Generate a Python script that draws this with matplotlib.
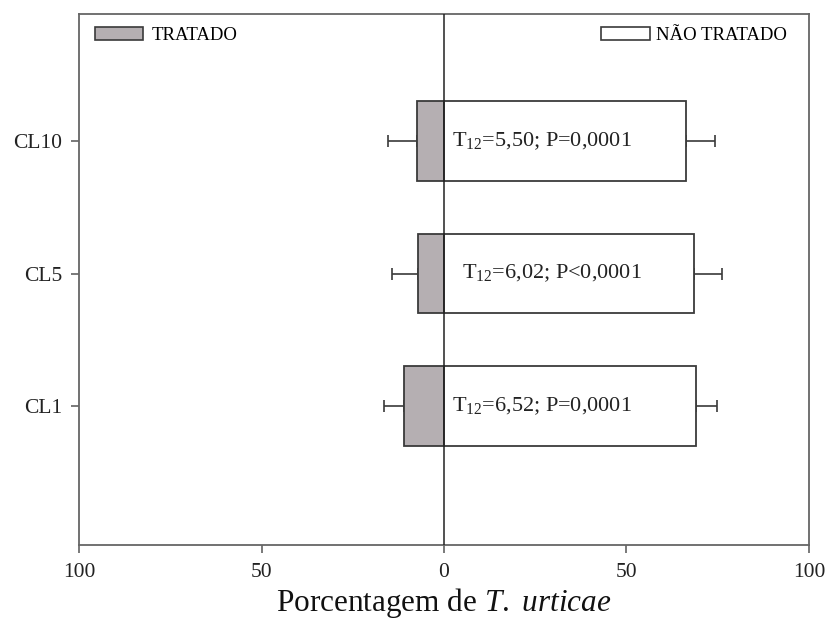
import matplotlib
matplotlib.use("Agg")
import matplotlib.pyplot as plt
import numpy as np
from matplotlib.patches import Patch

plt.rcParams['font.family'] = ['Liberation Serif', 'DejaVu Serif']
plt.rcParams['mathtext.fontset'] = 'custom'
plt.rcParams['mathtext.rm'] = 'Liberation Serif'
plt.rcParams['mathtext.it'] = 'Liberation Serif:italic'

# Data
categories = ['CL1', 'CL5', 'CL10']
treated = [11.0, 7.2, 7.3]        # % (plotted to the left)
treated_err = [5.4, 7.1, 8.0]
untreated = [69.0, 68.5, 66.3]    # % (plotted to the right)
untreated_err = [5.8, 7.6, 7.9]
stats_labels = [r'T$_{12}$=6,52; P=0,0001',
                r'T$_{12}$=6,02; P<0,0001',
                r'T$_{12}$=5,50; P=0,0001']
xtick_vals = [-100, -50, 0, 50, 100]
xtick_labels = ['100', '50', '0', '50', '100']

label_x = [2.3, 4.8, 2.3]

fig = plt.figure(figsize=(8.28, 6.19), dpi=100)
ax = fig.add_axes([79/828, 1-545/619, (809-79)/828, (545-14)/619])

y = np.arange(1, len(categories) + 1)
h = 0.6
edge = '#3a3a3a'
gray = '#b5afb2'

ax.errorbar(-np.array(treated), y, xerr=[treated_err, np.zeros(3)], fmt='none',
            ecolor=edge, elinewidth=1.2, capsize=4.5, capthick=1.2, zorder=1)
ax.errorbar(np.array(untreated), y, xerr=[np.zeros(3), untreated_err], fmt='none',
            ecolor=edge, elinewidth=1.2, capsize=4.5, capthick=1.2, zorder=1)
ax.barh(y, -np.array(treated), height=h, color=gray, edgecolor=edge, linewidth=1.3, zorder=2)
ax.barh(y, untreated, height=h, color='white', edgecolor=edge, linewidth=1.3, zorder=2)
ax.axvline(0, color='#222222', lw=1.1, zorder=3)

for yi, lx, s in zip(y, label_x, stats_labels):
    ax.text(lx, yi, s, fontsize=16, va='center', ha='left', color='#222222', zorder=4)

ax.set_xlim(-100, 100)
ax.set_ylim(-0.05, 3.96)
ax.set_xticks(xtick_vals)
ax.set_xticklabels(xtick_labels, fontsize=15.5)
ax.set_yticks(y)
ax.set_yticklabels(categories, fontsize=15.5)
ax.tick_params(axis='both', direction='out', length=6, width=1.1, color='#555555',
               labelcolor='#222222')
ax.tick_params(axis='x', pad=7)
ax.tick_params(axis='y', pad=6)
for sp in ax.spines.values():
    sp.set_color('#666666')
    sp.set_linewidth(1.3)

ax.set_xlabel(r'Porcentagem de $\mathit{T.}$ $\mathit{urticae}$', fontsize=22.5,
              color='#111111')
ax.xaxis.set_label_coords(0.5, -(603 - 545) / (545 - 14))
ax.xaxis.label.set_va('center')

leg1 = ax.legend(handles=[Patch(facecolor=gray, edgecolor=edge, lw=1.2, label='TRATADO')],
                 loc='upper left', bbox_to_anchor=(3/730, 1), frameon=False, fontsize=13.5,
                 handlelength=2.56, handleheight=0.64, handletextpad=0.48,
                 borderaxespad=0.3, borderpad=0.4)
ax.add_artist(leg1)
ax.legend(handles=[Patch(facecolor='white', edgecolor=edge, lw=1.2, label='NÃO TRATADO')],
          loc='upper right', bbox_to_anchor=(1 - 9/730, 1), frameon=False, fontsize=13.5,
          handlelength=2.6, handleheight=0.64, handletextpad=0.32,
          borderaxespad=0.3, borderpad=0.4)

fig.savefig('out.png', dpi=100, facecolor='white')
